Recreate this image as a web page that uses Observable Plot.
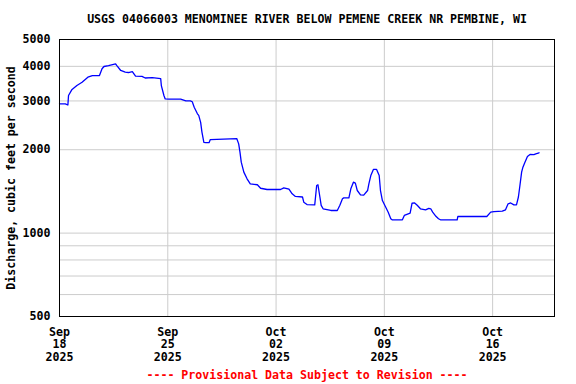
<!DOCTYPE html>
<html>
<head>
<meta charset="utf-8">
<script src="https://cdn.jsdelivr.net/npm/d3@7"></script>
<script src="https://cdn.jsdelivr.net/npm/@observablehq/plot@0.6"></script>
<style>
  html, body { margin: 0; padding: 0; background: #fff; }
</style>
</head>
<body>
<div id="chart"></div>
<script>
const title = "USGS 04066003 MENOMINEE RIVER BELOW PEMENE CREEK NR PEMBINE, WI";
const yLabel = "Discharge, cubic feet per second";
const footer = "---- Provisional Data Subject to Revision ----";

// Time series, discharge in cfs
const times = [
  "2025-09-18T00:00","2025-09-18T09:00","2025-09-18T13:00","2025-09-18T14:00","2025-09-18T19:00",
  "2025-09-19T03:00","2025-09-19T11:00","2025-09-19T20:00","2025-09-20T03:00","2025-09-20T14:00",
  "2025-09-20T18:00","2025-09-20T21:00","2025-09-21T04:00","2025-09-21T15:00","2025-09-21T17:00",
  "2025-09-21T23:00","2025-09-22T06:00","2025-09-22T11:00","2025-09-22T17:00","2025-09-22T22:00",
  "2025-09-23T08:00","2025-09-23T13:00","2025-09-24T00:00","2025-09-24T13:00","2025-09-24T14:00",
  "2025-09-24T18:00","2025-09-24T20:00","2025-09-25T02:00","2025-09-25T20:00","2025-09-26T04:00",
  "2025-09-26T11:00","2025-09-26T14:00","2025-09-26T17:00","2025-09-26T22:00","2025-09-27T00:00",
  "2025-09-27T03:00","2025-09-27T05:00","2025-09-27T08:00","2025-09-27T11:00","2025-09-27T16:00",
  "2025-09-27T18:00","2025-09-29T11:00","2025-09-29T14:00","2025-09-29T16:00","2025-09-29T18:00",
  "2025-09-29T22:00","2025-09-30T03:00","2025-09-30T08:00","2025-09-30T19:00","2025-10-01T00:00",
  "2025-10-01T10:00","2025-10-02T07:00","2025-10-02T12:00","2025-10-02T20:00","2025-10-03T01:00",
  "2025-10-03T06:00","2025-10-03T17:00","2025-10-03T19:00","2025-10-04T00:00","2025-10-04T12:00",
  "2025-10-04T15:00","2025-10-04T17:00","2025-10-04T20:00","2025-10-04T22:00","2025-10-05T01:00",
  "2025-10-05T13:00","2025-10-05T23:00","2025-10-06T03:00","2025-10-06T07:00","2025-10-06T09:00",
  "2025-10-06T17:00","2025-10-06T20:00","2025-10-07T00:00","2025-10-07T03:00","2025-10-07T06:00",
  "2025-10-07T11:00","2025-10-07T16:00","2025-10-07T22:00","2025-10-08T00:00","2025-10-08T03:00",
  "2025-10-08T07:00","2025-10-08T12:00","2025-10-08T16:00","2025-10-08T18:00","2025-10-08T21:00",
  "2025-10-09T02:00","2025-10-09T06:00","2025-10-09T10:00","2025-10-09T12:00","2025-10-10T04:00",
  "2025-10-10T07:00","2025-10-10T16:00","2025-10-10T19:00","2025-10-10T23:00","2025-10-11T03:00",
  "2025-10-11T08:00","2025-10-11T16:00","2025-10-11T21:00","2025-10-12T00:00","2025-10-12T03:00",
  "2025-10-12T08:00","2025-10-12T12:00","2025-10-12T15:00","2025-10-13T17:00","2025-10-13T18:00",
  "2025-10-15T15:00","2025-10-15T21:00","2025-10-16T02:00","2025-10-16T15:00","2025-10-16T20:00",
  "2025-10-17T00:00","2025-10-17T04:00","2025-10-17T09:00","2025-10-17T13:00","2025-10-17T16:00",
  "2025-10-17T18:00","2025-10-17T21:00","2025-10-17T23:00","2025-10-18T02:00","2025-10-18T06:00",
  "2025-10-18T10:00","2025-10-18T16:00","2025-10-18T19:00","2025-10-19T00:00"
];
const discharge = [
  2930,2930,2900,3140,3290,
  3410,3505,3655,3705,3705,
  3920,3995,4025,4085,4025,
  3865,3810,3800,3830,3685,
  3680,3630,3640,3610,3410,
  3140,3050,3045,3045,3000,
  3000,2980,2848,2696,2660,
  2512,2316,2128,2120,2120,
  2177,2195,2100,1960,1803,
  1660,1571,1507,1495,1452,
  1437,1437,1457,1440,1386,
  1357,1350,1293,1268,1265,
  1486,1495,1350,1260,1224,
  1207,1207,1260,1330,1340,
  1340,1445,1527,1515,1425,
  1375,1372,1425,1507,1614,
  1698,1698,1614,1425,1311,
  1242,1190,1127,1117,1117,
  1158,1180,1282,1285,1260,
  1224,1214,1229,1224,1190,
  1150,1127,1117,1117,1148,
  1148,1190,1195,1200,1214,
  1276,1285,1265,1265,1350,
  1464,1660,1730,1800,1890,
  1922,1920,1933,1950
];

const xDomain = ["2025-09-18T00:00", "2025-10-20T00:00"];
const xTicks = ["2025-09-18", "2025-09-25", "2025-10-02", "2025-10-09", "2025-10-16"];
const monthNames = ["Jan","Feb","Mar","Apr","May","Jun","Jul","Aug","Sep","Oct","Nov","Dec"];
const yTicks = [500, 1000, 2000, 3000, 4000, 5000];
const yGrid = [600, 700, 800, 900, 1000, 2000, 3000, 4000];

const parse = s => new Date(s + (s.length === 10 ? "T00:00" : "") + ":00Z");
const data = times.map((t, i) => ({date: parse(t), value: discharge[i]}));
const tickDates = xTicks.map(parse);

const font = "'DejaVu Sans Mono', 'Liberation Mono', monospace";

const chart = Plot.plot({
  width: 576,
  height: 384,
  marginLeft: 59,
  marginRight: 22,
  marginTop: 39,
  marginBottom: 68,
  style: {fontFamily: font, fontWeight: "bold", fontSize: "11.6px", background: "#fff", color: "#000"},
  x: {type: "utc", domain: xDomain.map(parse)},
  y: {type: "log", domain: [500, 5000]},
  marks: [
    Plot.ruleY(yGrid, {y: d => d, stroke: "#cccccc", strokeWidth: 1}),
    Plot.ruleX(tickDates, {x: d => d, stroke: "#cccccc", strokeWidth: 1}),
    Plot.line(data, {x: "date", y: "value", stroke: "#0000ff", strokeWidth: 1.3}),
    Plot.frame({stroke: "#000", strokeWidth: 1}),
    Plot.axisY({
      ticks: yTicks, tickSize: 0, tickPadding: 9, tickFormat: d => String(d),
      label: yLabel, labelAnchor: "center", labelArrow: "none", labelOffset: 53,
      fontWeight: "bold"
    }),
    Plot.axisX({
      ticks: tickDates, tickSize: 0, tickPadding: 10, lineHeight: 1.1,
      tickFormat: d => `${monthNames[d.getUTCMonth()]}\n${String(d.getUTCDate()).padStart(2, "0")}\n${d.getUTCFullYear()}`,
      label: null
    }),
    Plot.text([title], {text: d => d, frameAnchor: "top", dy: -20, lineAnchor: "middle", fill: "#000"}),
    Plot.text([footer], {text: d => d, frameAnchor: "bottom", dy: 59, lineAnchor: "middle", fill: "#ff0000"})
  ]
});
document.getElementById("chart").appendChild(chart);
</script>
</body>
</html>
